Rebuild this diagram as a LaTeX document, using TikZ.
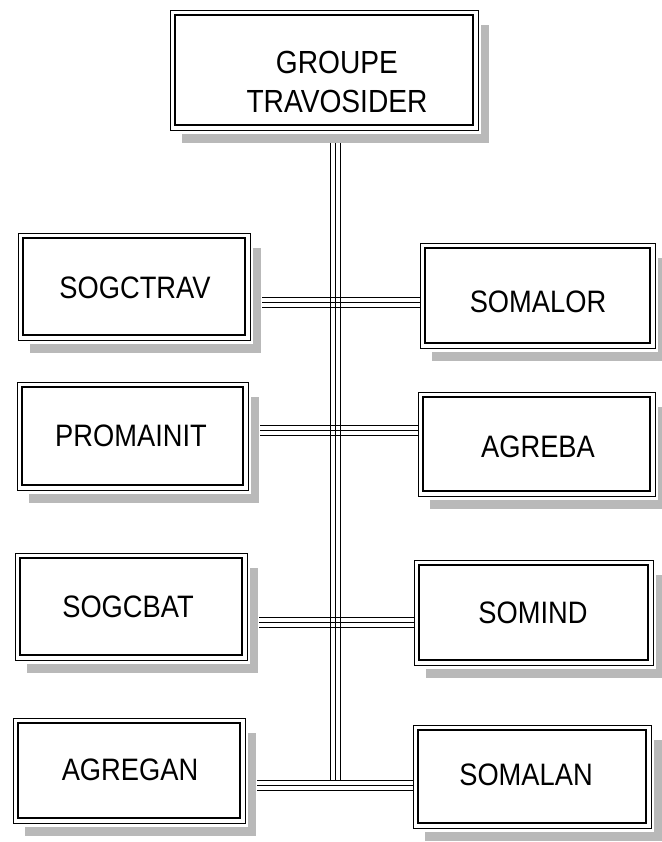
\documentclass[tikz,border=0pt]{standalone}
\usepackage{fontspec}
\setmainfont{Liberation Sans}[FakeStretch=0.88]
\begin{document}
\begin{tikzpicture}[x=1pt,y=-1pt,
  boxtext/.style={font=\fontsize{31}{39}\selectfont, align=center, inner sep=0pt},
  toptext/.style={font=\fontsize{32}{39}\selectfont, align=center, inner sep=0pt},
  innerline/.style={draw, line width=2.4pt},
  outerline/.style={draw, line width=0.9pt, fill=white},
  shade/.style={fill=gray!55},
  tline/.style={line width=0.9pt}]
\useasboundingbox[fill=white] (0,0) rectangle (661,842);
% name, left, top, right, bottom, text x, text y, style, text
\newcommand\obox[9]{%
  \fill[shade] (#2+12, #5+4) rectangle (#4+11, #5+13);
  \fill[shade] (#4+3, #3+15) rectangle (#4+11, #5+13);
  \draw[outerline] (#2,#3) rectangle (#4,#5);
  \draw[innerline] (#2+5,#3+5) rectangle (#4-5,#5-5);
  \node[#8] (#1) at (#6,#7) {#9};
  \coordinate (#1-r) at (#4+12,#7);
  \coordinate (#1-l) at (#2,#7);
}
\obox{groupe}{170}{10}{478}{130}{337}{82}{toptext}{GROUPE\\TRAVOSIDER}
\obox{sogctrav}{18}{233}{250}{340}{135}{288}{boxtext}{SOGCTRAV}
\obox{somalor}{420}{243}{655}{348}{538}{302}{boxtext}{SOMALOR}
\obox{promainit}{17}{382}{248}{490}{131}{436}{boxtext}{PROMAINIT}
\obox{agreba}{418}{392}{655}{496}{538}{447}{boxtext}{AGREBA}
\obox{sogcbat}{15}{553}{247}{660}{128}{607}{boxtext}{SOGCBAT}
\obox{somind}{414}{560}{653}{665}{533}{613}{boxtext}{SOMIND}
\obox{agregan}{13}{718}{245}{823}{130}{770}{boxtext}{AGREGAN}
\obox{somalan}{413}{725}{651}{828}{526}{775}{boxtext}{SOMALAN}
\coordinate (tt) at (335,143);
\coordinate (tb) at (335,780);
\coordinate (c1) at (335,302);
\coordinate (c2) at (335,430);
\coordinate (c3) at (335,622);
\coordinate (c4) at (335,785);
\foreach \d in {-5,0,5}{
  \draw[tline] ([xshift=\d pt]tt) -- ([xshift=\d pt]tb);
  \draw[tline] ([yshift=\d pt]sogctrav-r |- c1) -- ([yshift=\d pt]somalor-l |- c1);
  \draw[tline] ([yshift=\d pt]promainit-r |- c2) -- ([yshift=\d pt]agreba-l |- c2);
  \draw[tline] ([yshift=\d pt]sogcbat-r |- c3) -- ([yshift=\d pt]somind-l |- c3);
  \draw[tline] ([yshift=\d pt]agregan-r |- c4) -- ([yshift=\d pt]somalan-l |- c4);
}
\end{tikzpicture}
\end{document}
